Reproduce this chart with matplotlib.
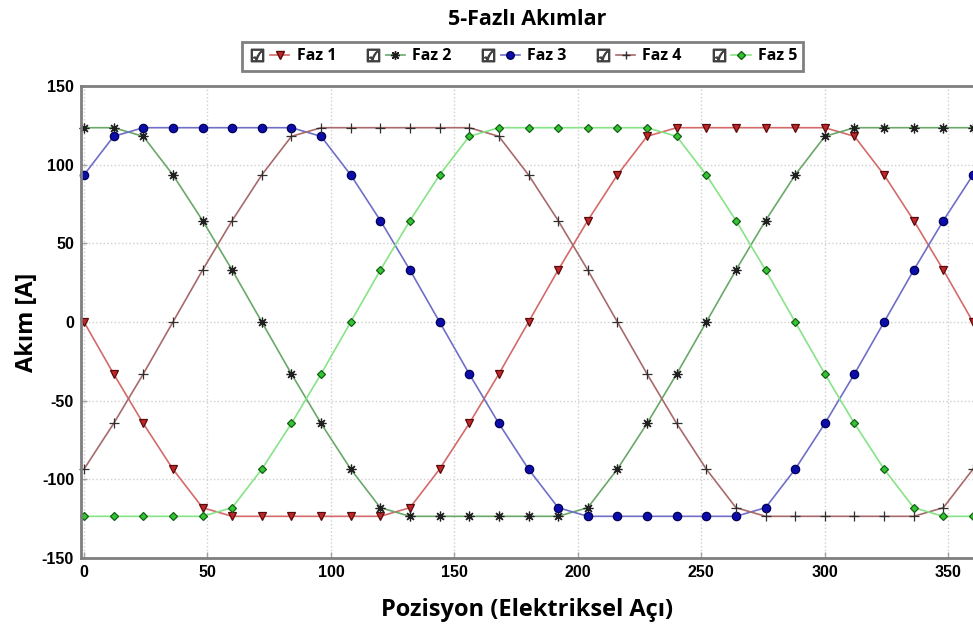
"""
5-Fazli Akimlar: clipped phase currents vs. electrical angle.
"""
import matplotlib
matplotlib.use("Agg")
import matplotlib.pyplot as plt
from matplotlib.lines import Line2D
from matplotlib.legend_handler import HandlerTuple

# ---------------------------------------------------------------------------
# Data (one point every 12 electrical degrees)
# ---------------------------------------------------------------------------
angle = [0, 12, 24, 36, 48, 60, 72, 84, 96, 108, 120, 132, 144, 156, 168, 180,
         192, 204, 216, 228, 240, 252, 264, 276, 288, 300, 312, 324, 336, 348, 360]

faz1 = [0, -33, -64.5, -93.5, -118, -123.5, -123.5, -123.5, -123.5, -123.5, -123.5,
        -118, -93.5, -64.5, -33, 0, 33, 64.5, 93.5, 118, 123.5, 123.5, 123.5, 123.5,
        123.5, 123.5, 118, 93.5, 64.5, 33, 0]
faz2 = [123.5, 123.5, 118, 93.5, 64.5, 33, 0, -33, -64.5, -93.5, -118, -123.5, -123.5,
        -123.5, -123.5, -123.5, -123.5, -118, -93.5, -64.5, -33, 0, 33, 64.5, 93.5,
        118, 123.5, 123.5, 123.5, 123.5, 123.5]
faz3 = [93.5, 118, 123.5, 123.5, 123.5, 123.5, 123.5, 123.5, 118, 93.5, 64.5, 33, 0,
        -33, -64.5, -93.5, -118, -123.5, -123.5, -123.5, -123.5, -123.5, -123.5, -118,
        -93.5, -64.5, -33, 0, 33, 64.5, 93.5]
faz4 = [-93.5, -64.5, -33, 0, 33, 64.5, 93.5, 118, 123.5, 123.5, 123.5, 123.5, 123.5,
        123.5, 118, 93.5, 64.5, 33, 0, -33, -64.5, -93.5, -118, -123.5, -123.5, -123.5,
        -123.5, -123.5, -123.5, -118, -93.5]
faz5 = [-123.5, -123.5, -123.5, -123.5, -123.5, -118, -93.5, -64.5, -33, 0, 33, 64.5,
        93.5, 118, 123.5, 123.5, 123.5, 123.5, 123.5, 123.5, 118, 93.5, 64.5, 33, 0,
        -33, -64.5, -93.5, -118, -123.5, -123.5]

labels = ["Faz 1", "Faz 2", "Faz 3", "Faz 4", "Faz 5"]
x_ticks = [0, 50, 100, 150, 200, 250, 300, 350]
y_ticks = [-150, -100, -50, 0, 50, 100, 150]

# line colour, marker, marker face, marker edge, marker size
styles = [
    ("#d46a6a", "v", "#c0262a", "#5a0a0a", 6.0),
    ("#6aa86a", (8, 2, 0), "#202020", "#202020", 7.0),
    ("#6f6fc8", "o", "#0c0ca8", "#00005a", 6.0),
    ("#a86a6a", "+", "#303030", "#303030", 7.0),
    ("#86e486", "D", "#34c434", "#146014", 4.2),
]

plt.rcParams["axes.unicode_minus"] = False
text_font = "Open Sans"

fig = plt.figure(figsize=(9.73, 6.26), dpi=100)
ax = fig.add_axes([0.0833, 0.1086, 0.9167, 0.754])

series = [faz1, faz2, faz3, faz4, faz5]
line_handles = []
for vals, lab, (lc, mk, mfc, mec, ms) in zip(series, labels, styles):
    ln, = ax.plot(angle, vals, color=lc, lw=1.2, marker=mk, markersize=ms,
                  markerfacecolor=mfc, markeredgecolor=mec, markeredgewidth=0.9,
                  label=lab, clip_on=False)
    line_handles.append(ln)

ax.set_xlim(-1.2, 360)
ax.set_ylim(-150, 150)
ax.set_xticks(x_ticks)
ax.set_yticks(y_ticks)
ax.grid(True, linestyle=":", color="#cfcfcf", lw=1.0)
ax.set_axisbelow(True)

for side in ["left", "bottom", "top"]:
    ax.spines[side].set_color("#7f7f7f")
    ax.spines[side].set_linewidth(2.0)
ax.spines["right"].set_visible(False)

ax.tick_params(direction="in", length=4, color="#a0a0a0", width=1, pad=5)
for lbl in ax.get_xticklabels() + ax.get_yticklabels():
    lbl.set_fontfamily("Liberation Sans")
    lbl.set_fontweight("bold")
    lbl.set_fontsize(11.5)

ax.set_title("5-Fazlı Akımlar", fontfamily=text_font, fontweight="bold",
             fontsize=15.5, pad=44)
ax.set_xlabel("Pozisyon (Elektriksel Açı)", fontfamily=text_font,
              fontweight="bold", fontsize=17, labelpad=13)
ax.set_ylabel("Akım [A]", fontfamily=text_font, fontweight="bold",
              fontsize=17, labelpad=2)

# legend: check box + line sample for every series
handles = []
for ln in line_handles:
    box = Line2D([], [], linestyle="none", marker="$\u2611$", markersize=9,
                 color="#404040")
    sample = Line2D([], [], color=ln.get_color(), lw=1.2, marker=ln.get_marker(),
                    markersize=ln.get_markersize() * 0.9,
                    markerfacecolor=ln.get_markerfacecolor(),
                    markeredgecolor=ln.get_markeredgecolor())
    handles.append((box, sample))

leg = fig.legend(handles, labels, loc="upper center",
                 bbox_to_anchor=(0.537, 0.933), ncol=5, borderaxespad=0,
                 handler_map={tuple: HandlerTuple(ndivide=None, pad=0.2)},
                 handlelength=2.6, handletextpad=0.45, columnspacing=1.7,
                 borderpad=0.4, fancybox=False, framealpha=1,
                 edgecolor="#808080",
                 prop={"family": text_font, "weight": "bold", "size": 11.5})
leg.get_frame().set_linewidth(2.0)

fig.savefig("out.png", dpi=100)
